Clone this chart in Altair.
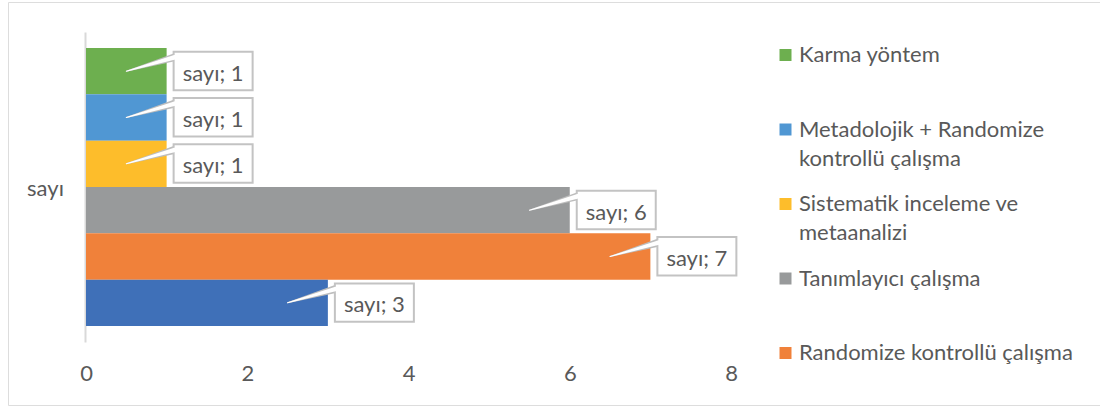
import altair as alt
import pandas as pd

# Study design counts, listed top bar to bottom bar
categories = [
    "Karma yöntem",
    "Metadolojik + Randomize kontrollü çalışma",
    "Sistematik inceleme ve metaanalizi",
    "Tanımlayıcı çalışma",
    "Randomize kontrollü çalışma",
    "Metodolojik çalışma",
]
counts = [1, 1, 1, 6, 7, 3]
colors = ["#6DAF4F", "#5097D3", "#FDBD2B", "#989A9B", "#F0813A", "#3F70B8"]

# Legend entries (wrapped labels), top to bottom
legend_names = categories[:5]
legend_text = [
    "Karma yöntem",
    "Metadolojik + Randomize\nkontrollü çalışma",
    "Sistematik inceleme ve\nmetaanalizi",
    "Tanımlayıcı çalışma",
    "Randomize kontrollü çalışma",
]
x_ticks = [0, 2, 4, 6, 8]
group_label = "sayı"

FONT = "Lato"
TEXT = "#595959"
FS = 22
PAD_OUT = 0.345

# row i of the bar band spans [i, i+1] on the numeric row scale
bars = pd.DataFrame({
    "name": categories,
    "value": counts,
    "row": range(len(categories)),
    "label": [f"{group_label}; {v}" for v in counts],
})
bars["mid"] = bars["row"] + 0.5
bars["box_top"] = bars["row"] + 0.08
bars["box_bot"] = bars["row"] + 0.91

# callout pointers: tip at the middle of the bar, base at the label box
ptr_rows = []
for i, (n, v) in enumerate(zip(categories, counts)):
    ptr_rows.append({"name": n, "step": 0, "px": v - 0.5, "py": i + 0.5, "wo": 0.0, "wi": 0.0})
    ptr_rows.append({"name": n, "step": 1, "px": v + 0.1, "py": i + 0.2, "wo": 8.0, "wi": 4.5})
ptr = pd.DataFrame(ptr_rows)

leg = pd.DataFrame({"name": legend_names, "text": legend_text})

xs = alt.Scale(domain=[0, 8], range=[78, 723], nice=False, zero=True)
ys = alt.Scale(type="band", domain=categories, range=[30, 340],
               paddingInner=0, paddingOuter=PAD_OUT)
ys_num = alt.Scale(domain=[-PAD_OUT, len(categories) + PAD_OUT], range=[30, 340],
                   nice=False, zero=False)
cs = alt.Scale(domain=categories, range=colors)

x_axis = alt.Axis(values=x_ticks, domain=False, ticks=False, grid=False,
                  labelFont=FONT, labelFontSize=FS, labelColor=TEXT,
                  labelFlush=False, labelPadding=21, offset=-63, title=None)
y_axis = alt.Axis(domain=True, domainColor="#d9d9d9", domainWidth=2,
                  ticks=False, labels=False, grid=False,
                  title=group_label, titleAngle=0, titleAlign="center",
                  titleBaseline="middle", titleX=-40, titleY=186,
                  titleFont=FONT, titleFontSize=FS, titleFontWeight="normal",
                  titleColor=TEXT, offset=-77)

base = alt.Chart(bars)

bar_layer = base.mark_bar().encode(
    x=alt.X("value:Q", scale=xs, axis=x_axis),
    y=alt.Y("name:N", scale=ys, axis=y_axis, sort=None),
    color=alt.Color("name:N", scale=cs, legend=None),
)

ptr_base = alt.Chart(ptr).encode(
    x=alt.X("px:Q", scale=xs, axis=None),
    y=alt.Y("py:Q", scale=ys_num, axis=None),
    detail="name:N",
    order="step:O",
)
ptr_outer = ptr_base.mark_trail(color="#bdbdbd").encode(size=alt.Size("wo:Q", scale=None))
ptr_inner = ptr_base.mark_trail(color="#ffffff").encode(size=alt.Size("wi:Q", scale=None))

box_layer = base.mark_rect(fill="white", stroke="#c3c3c3", strokeWidth=2,
                           xOffset=7, x2Offset=86).encode(
    x=alt.X("value:Q", scale=xs, axis=None),
    x2="value:Q",
    y=alt.Y("box_top:Q", scale=ys_num, axis=None),
    y2="box_bot:Q",
)

text_layer = base.mark_text(align="center", baseline="alphabetic", dx=46.5, dy=9.5,
                            font=FONT, fontSize=FS, color=TEXT).encode(
    x=alt.X("value:Q", scale=xs, axis=None),
    y=alt.Y("mid:Q", scale=ys_num, axis=None),
    text="label:N",
)

ly = alt.Scale(type="point", domain=legend_names, range=[53, 351], padding=0)
leg_sym = alt.Chart(leg).mark_square(size=144, opacity=1).encode(
    x=alt.value(777.5),
    y=alt.Y("name:N", scale=ly, axis=None, sort=None),
    color=alt.Color("name:N", scale=cs, legend=None),
)
leg_txt = alt.Chart(leg).mark_text(align="left", baseline="top", dy=-10, lineBreak="\n",
                                   lineHeight=29, font=FONT, fontSize=FS, color=TEXT).encode(
    x=alt.value(791),
    y=alt.Y("name:N", scale=ly, axis=None, sort=None),
    text="text:N",
)

chart = alt.layer(
    bar_layer, ptr_outer, box_layer, ptr_inner, text_layer, leg_sym, leg_txt
).resolve_scale(
    y="independent"
).resolve_axis(
    x="independent", y="independent"
).properties(
    width=1092, height=403,
    padding={"left": 8, "top": 2, "right": 0, "bottom": 2},
    autosize="none",
).configure_view(
    stroke="#d9d9d9", strokeWidth=2, fill="white"
).configure(background="white")

chart.save("out.html", embed_options={"renderer": "svg", "actions": False})
